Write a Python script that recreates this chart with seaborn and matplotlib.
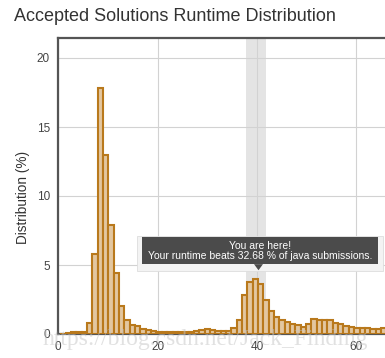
import numpy as np
import pandas as pd
import seaborn as sns
import matplotlib
matplotlib.use("Agg")
import matplotlib.pyplot as plt
from matplotlib.patches import Rectangle, Polygon

# ---- data ----
bin_start = 0.425
bin_width = 1.075
distribution_pct = [
    0.03, 0.06, 0.12, 0.17, 0.17, 0.80, 5.80, 17.80, 13.00, 7.90,
    4.40, 2.00, 1.05, 0.63, 0.55, 0.35, 0.27, 0.20, 0.15, 0.14,
    0.13, 0.13, 0.12, 0.13, 0.15, 0.22, 0.30, 0.35, 0.30, 0.25,
    0.22, 0.22, 0.40, 1.00, 2.80, 3.80, 4.00, 3.60, 2.50, 1.70,
    1.20, 1.05, 0.85, 0.75, 0.65, 0.52, 0.75, 1.12, 1.05, 1.00,
    1.02, 0.82, 0.70, 0.58, 0.50, 0.44, 0.40, 0.40, 0.36, 0.36,
    0.42,
]
n_bins = len(distribution_pct)
bin_end = bin_start + bin_width * n_bins
runtime_centers = bin_start + bin_width * (np.arange(n_bins) + 0.5)
x_ticks = [0, 20, 40, 60]
y_ticks = [0, 5, 10, 15, 20]
highlight = (37.8, 41.8)
title = "Accepted Solutions Runtime Distribution"
ylabel = "Distribution (%)"
tip_lines = "You are here!\nYour runtime beats 32.68 % of java submissions."
watermark = "https://blog.csdn.net/Jack_Finding"

df = pd.DataFrame({"runtime": runtime_centers, "pct": distribution_pct})

sns.set_style("white")
plt.rcParams["font.family"] = ["Liberation Sans", "DejaVu Sans"]

W, H = 385, 358
fig = plt.figure(figsize=(W / 100, H / 100), dpi=100)
ax = fig.add_axes([58.2 / W, 1 - 334 / H, 1 - 58.2 / W, (334 - 38) / H])

ax.axvspan(*highlight, color="#e4e4e4", zorder=0, lw=0)

sns.histplot(data=df, x="runtime", weights="pct", binwidth=bin_width,
             binrange=(bin_start, bin_end), ax=ax,
             color="#e3c7a0", edgecolor="#b9791c", linewidth=1.5, alpha=1,
             zorder=3)

ax.set_xlim(0, (W - 58.2) / 4.97)
ax.set_ylim(0, (334 - 38) / 13.8)
ax.set_xticks(x_ticks)
ax.set_yticks(y_ticks)
ax.grid(True, color="#d2d2d2", lw=0.8, zorder=1)
ax.set_axisbelow(True)
ax.tick_params(axis="both", length=0, labelsize=8.5, labelcolor="#444444")
ax.tick_params(axis="x", pad=5)
ax.tick_params(axis="y", pad=6)
ax.set_xlabel("")
ax.set_ylabel(ylabel, fontsize=9.8, color="#333333")
ax.yaxis.set_label_coords(-0.086, 0.46)

for side in ["left", "top", "bottom"]:
    ax.spines[side].set_color("#555555")
    ax.spines[side].set_linewidth(1.6)
    ax.spines[side].set_visible(True)
ax.spines["right"].set_visible(False)

# tooltip
ax.add_patch(Rectangle((15.84, 4.6), 65.3 - 15.84, 7.1 - 4.6, facecolor="#f3f3f3",
                       edgecolor="#dddddd", lw=0.6, zorder=5, clip_on=False))
ax.add_patch(Rectangle((16.8, 5.05), 64.35 - 16.8, 7.05 - 5.05, facecolor="#4b4b4b",
                       edgecolor="none", zorder=6, clip_on=False))
ax.add_patch(Polygon([(39.4, 5.06), (41.2, 5.06), (40.3, 4.62)], closed=True,
                     facecolor="#4b4b4b", edgecolor="none", zorder=6, clip_on=False))
ax.text(40.6, 6.04, tip_lines, ha="center", va="center", color="white",
        fontsize=7.5, linespacing=1.0, zorder=7)

fig.text(14 / W, 1 - 21 / H, title, fontsize=13, color="#333333", va="baseline")
fig.text(43 / W, 1 - 345 / H, watermark, fontsize=17, family="Liberation Serif",
         color="#c4c4c4", alpha=0.5, va="baseline", zorder=10)

fig.savefig("out.png", dpi=100)
